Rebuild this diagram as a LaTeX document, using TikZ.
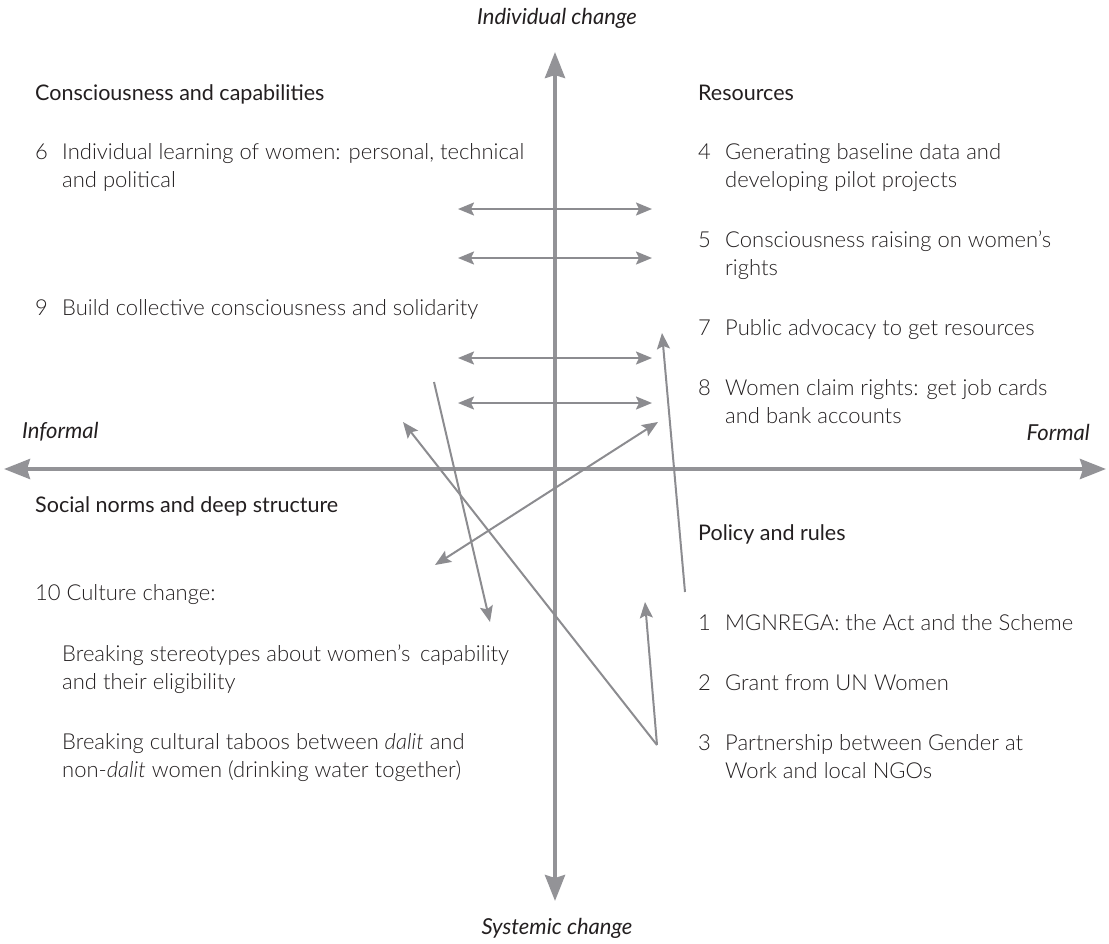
\documentclass[tikz,border=0pt]{standalone}
\usepackage{fontspec}
\setmainfont{Lato}
\newfontfamily\bodyfont{Lato Light}
\usepackage{tikz}
\usetikzlibrary{arrows.meta,positioning}

\definecolor{axisgray}{RGB}{147,147,151}
\definecolor{linkgray}{RGB}{140,140,144}
\definecolor{ink}{RGB}{35,31,32}

\newcommand{\num}[1]{\makebox[27pt][l]{#1}}
\newcommand{\ind}{\hspace*{27pt}}

\begin{document}
\begin{tikzpicture}[x=1pt, y=-1pt,
  axis/.style={line width=4pt, draw=axisgray, -{Stealth[length=26pt, width=20pt, inset=3pt]}},
  link/.style={line width=2pt, draw=linkgray, -{Stealth[length=16pt, width=13pt, inset=3pt]}},
  twolink/.style={link, {Stealth[length=16pt, width=13pt, inset=3pt]}-{Stealth[length=16pt, width=13pt, inset=3pt]}},
  head/.style={anchor=base west, inner sep=0pt, text=ink, font=\fontsize{21.5}{27.7}\selectfont},
  item/.style={anchor=base west, inner sep=0pt, text=ink, align=left, font=\bodyfont\fontsize{22}{27.7}\selectfont},
  pole/.style={inner sep=0pt, text=ink, font=\fontsize{22}{26}\selectfont\itshape}]
\path[use as bounding box] (0,0) rectangle (1109,943);

% the two axes
\coordinate (Ctr) at (555,469);
\coordinate (Top) at (555,52);
\coordinate (Bot) at (555,901);
\coordinate (Lft) at (4,469);
\coordinate (Rgt) at (1106,469);
\draw[axis] (Ctr) -- (Top);
\draw[axis] (Ctr) -- (Bot);
\draw[axis] (Ctr) -- (Lft);
\draw[axis] (Ctr) -- (Rgt);

\node[pole] (indiv) at (557,18) {Individual change};
\node[pole] (system) at (557,928) {Systemic change};
\node[pole, anchor=west] (informal) at (22,432) {Informal};
\node[pole, anchor=east] (formal) at (1090,432) {Formal};

% quadrant headings (base = last line)
\node[head] (cons) at (35,100) {Consciousness and capabilities};
\node[head] (res) at (698,100) {Resources};
\node[head] (norms) at (35,512) {Social norms and deep structure};
\node[head] (policy) at (698,540) {Policy and rules};

% items, upper left
\node[item] (i6) at (35,187) {\num{6}Individual learning of women: personal, technical\\\ind and political};
\node[item] (i9) at (35,315) {\num{9}Build collective consciousness and solidarity};

% items, upper right
\node[item] (i4) at (698,187) {\num{4}Generating baseline data and\\\ind developing pilot projects};
\node[item] (i5) at (698,275) {\num{5}Consciousness raising on women’s\\\ind rights};
\node[item] (i7) at (698,335) {\num{7}Public advocacy to get resources};
\node[item] (i8) at (698,423) {\num{8}Women claim rights: get job cards\\\ind and bank accounts};

% items, lower left
\node[item] (i10) at (35,600) {10 Culture change:};
\node[item] (i10a) at (62,689) {Breaking stereotypes about women’s\, capability\\and their eligibility};
\node[item] (i10b) at (62,777) {Breaking cultural taboos between \textit{dalit} and\\non-\textit{dalit} women (drinking water together)};

% items, lower right
\node[item] (i1) at (698,630) {\num{1}MGNREGA: the Act and the Scheme};
\node[item] (i2) at (698,690) {\num{2}Grant from UN Women};
\node[item] (i3) at (698,778) {\num{3}Partnership between Gender at\\\ind Work and local NGOs};

% links between quadrants
\coordinate (r1l) at (458,209); \coordinate (r1r) at (652,209);
\coordinate (r2l) at (458,258); \coordinate (r2r) at (652,258);
\coordinate (r3l) at (458,358); \coordinate (r3r) at (652,358);
\coordinate (r4l) at (458,403); \coordinate (r4r) at (652,403);
\draw[twolink] (r1l) -- (r1r);
\draw[twolink] (r2l) -- (r2r);
\draw[twolink] (r3l) -- (r3r);
\draw[twolink] (r4l) -- (r4r);

\coordinate (aTop) at (434,382); \coordinate (aEnd) at (490,622);
\draw[link] (aTop) -- (aEnd);
\coordinate (vtx) at (657,745);
\coordinate (bEnd) at (403,422);
\coordinate (cEnd) at (645,602);
\draw[link] (vtx) -- (bEnd);
\draw[link] (vtx) -- (cEnd);
\coordinate (dBot) at (685,592); \coordinate (dEnd) at (662,333);
\draw[link] (dBot) -- (dEnd);
\coordinate (eLow) at (435,565); \coordinate (eUp) at (658,422);
\draw[twolink] (eLow) -- (eUp);
\end{tikzpicture}
\end{document}
